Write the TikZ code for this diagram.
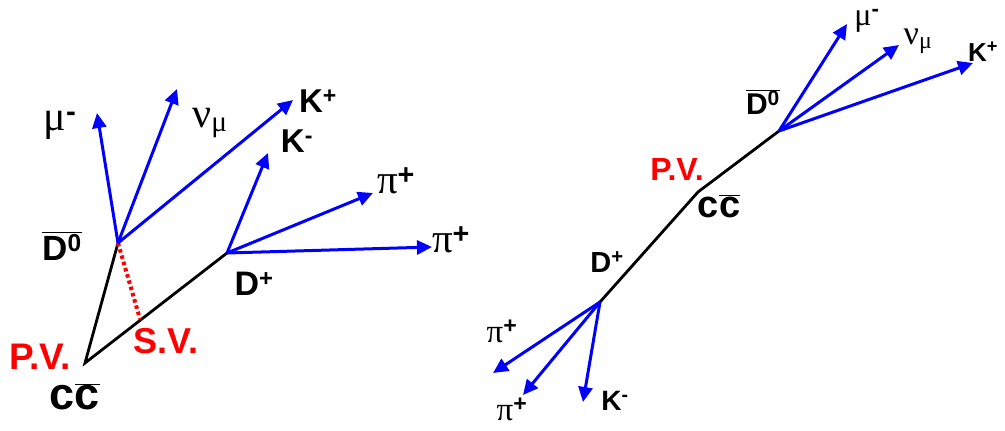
\documentclass[tikz,border=0pt]{standalone}
\usepackage{fontspec}
\setmainfont{Liberation Sans}
\newfontfamily\grk{Liberation Serif}
\usetikzlibrary{arrows.meta}
\begin{document}
\begin{tikzpicture}[x=1pt,y=-1pt,
  track/.style={blue,line width=3pt,-{Triangle[length=15pt,width=14pt]}},
  parent/.style={black,line width=2.8pt},
  lbl/.style={inner sep=0pt,font=\bfseries},
  glbl/.style={inner sep=0pt,font=\grk},
  redlbl/.style={inner sep=0pt,red,font=\bfseries}]
\useasboundingbox (0,0) rectangle (1005,431);
% ---------- left diagram ----------
\coordinate (pvL) at (85,363);
\coordinate (d0L) at (118,243);
\coordinate (dpL) at (227,253);
\coordinate (svL) at (140,319);
\coordinate (muL) at (97,113);
\coordinate (nuL) at (177,89);
\coordinate (kpL) at (293,100);
\coordinate (kmL) at (268,153);
\coordinate (pi1L) at (373,193);
\coordinate (pi2L) at (432,247);
\draw[parent] (d0L) -- (pvL) -- (dpL);
\draw[red,line width=4pt,dash pattern=on 3.5pt off 3pt] (d0L) -- (svL);
\draw[track] (d0L) -- (muL);
\draw[track] (d0L) -- (nuL);
\draw[track] (d0L) -- (kpL);
\draw[track] (dpL) -- (kmL);
\draw[track] (dpL) -- (pi1L);
\draw[track] (dpL) -- (pi2L);
\node[glbl,font=\grk\fontsize{42}{46}\selectfont] (tmuL) at (60,125) {μ\textsuperscript{\bfseries\fontspec{Liberation Sans}-}};
\node[glbl,font=\grk\fontsize{42}{46}\selectfont] (tnuL) at (210,123) {ν\textsubscript{μ}};
\node[lbl,font=\bfseries\fontsize{33}{36}\selectfont] (tkpL) at (318,101) {K\textsuperscript{+}};
\node[lbl,font=\bfseries\fontsize{33}{36}\selectfont] (tkmL) at (297,141) {K\textsuperscript{-}};
\node[glbl,font=\grk\fontsize{41}{44}\selectfont] (tpi1L) at (396,181) {π\textsuperscript{\bfseries\fontspec{Liberation Sans}+}};
\node[glbl,font=\grk\fontsize{41}{44}\selectfont] (tpi2L) at (451,240) {π\textsuperscript{\bfseries\fontspec{Liberation Sans}+}};
\node[lbl,font=\bfseries\fontsize{35}{38}\selectfont] (td0L) at (62,246) {$\overline{\mbox{D\textsuperscript{0}}}$};
\node[lbl,font=\bfseries\fontsize{34}{38}\selectfont] (tdpL) at (254,284) {D\textsuperscript{+}};
\node[redlbl,font=\bfseries\fontsize{36}{40}\selectfont] (tsvL) at (166,341) {S.V.};
\node[redlbl,font=\bfseries\fontsize{37}{40}\selectfont] (tpvL) at (40,357) {P.V.};
\node[lbl,font=\bfseries\fontsize{45}{48}\selectfont] (tccL) at (75,397) {c$\overline{\mbox{c}}$};
% ---------- right diagram ----------
\coordinate (pvR) at (698,192);
\coordinate (d0R) at (779,131);
\coordinate (dpR) at (600,302);
\coordinate (muR) at (847,24);
\coordinate (nuR) at (899,45);
\coordinate (kpR) at (973,63);
\coordinate (pi1R) at (493,373);
\coordinate (pi2R) at (523,395);
\coordinate (kmR) at (583,402);
\draw[parent] (d0R) -- (pvR) -- (dpR);
\draw[track] (d0R) -- (muR);
\draw[track] (d0R) -- (nuR);
\draw[track] (d0R) -- (kpR);
\draw[track] (dpR) -- (pi1R);
\draw[track] (dpR) -- (pi2R);
\draw[track] (dpR) -- (kmR);
\node[glbl,font=\grk\fontsize{32}{36}\selectfont] (tmuR) at (867,21) {μ\textsuperscript{\bfseries\fontspec{Liberation Sans}-}};
\node[glbl,font=\grk\fontsize{34}{38}\selectfont] (tnuR) at (918,41) {ν\textsubscript{μ}};
\node[lbl,font=\bfseries\fontsize{26}{30}\selectfont] (tkpR) at (983,52) {K\textsuperscript{+}};
\node[lbl,font=\bfseries\fontsize{30}{34}\selectfont] (td0R) at (763,102) {$\overline{\mbox{D\textsuperscript{0}}}$};
\node[redlbl,font=\bfseries\fontsize{32}{36}\selectfont] (tpvR) at (677,169) {P.V.};
\node[lbl,font=\bfseries\fontsize{38}{42}\selectfont] (tccR) at (719,206) {c$\overline{\mbox{c}}$};
\node[lbl,font=\bfseries\fontsize{29}{32}\selectfont] (tdpR) at (607,262) {D\textsuperscript{+}};
\node[glbl,font=\grk\fontsize{33}{36}\selectfont] (tpi1R) at (502,331) {π\textsuperscript{\bfseries\fontspec{Liberation Sans}+}};
\node[glbl,font=\grk\fontsize{33}{36}\selectfont] (tpi2R) at (512,409) {π\textsuperscript{\bfseries\fontspec{Liberation Sans}+}};
\node[lbl,font=\bfseries\fontsize{28}{32}\selectfont] (tkmR) at (615,401) {K\textsuperscript{-}};
\end{tikzpicture}
\end{document}
